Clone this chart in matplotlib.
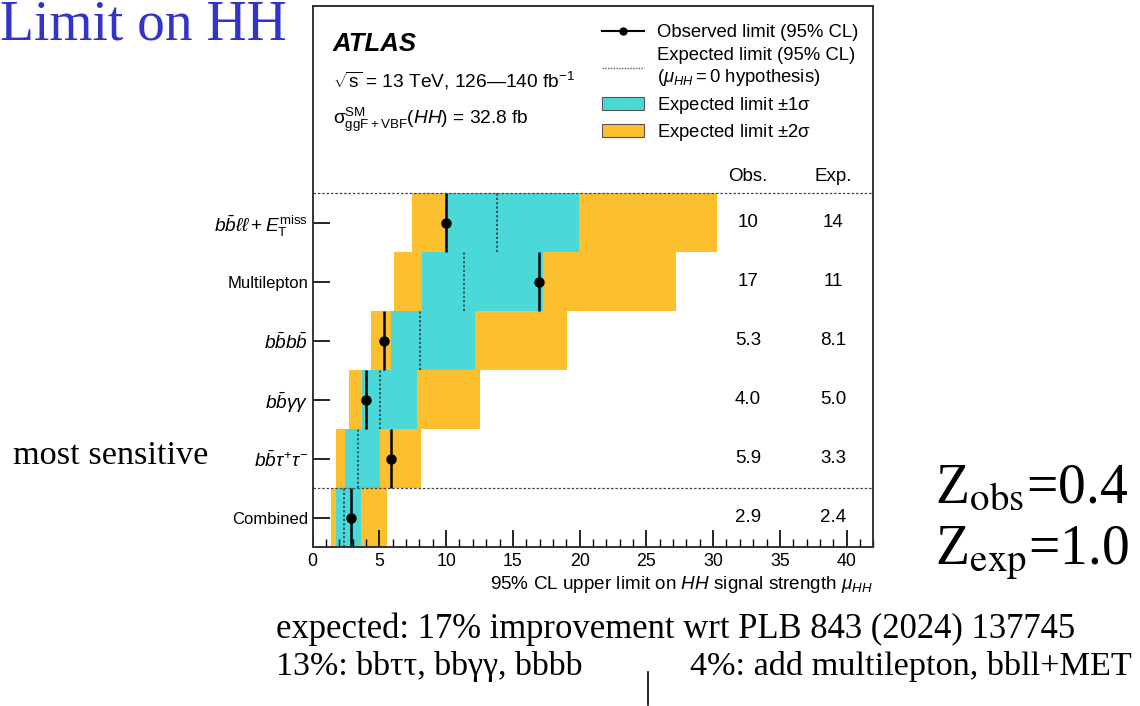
import matplotlib
matplotlib.use("Agg")
import matplotlib.pyplot as plt
from matplotlib.lines import Line2D
from matplotlib.patches import Patch
from matplotlib.ticker import MultipleLocator

plt.rcParams['font.family'] = ['Liberation Sans', 'DejaVu Sans']
plt.rcParams['mathtext.fontset'] = 'custom'
plt.rcParams['mathtext.rm'] = 'Liberation Sans'
plt.rcParams['mathtext.it'] = 'Liberation Sans:italic'
plt.rcParams['mathtext.bf'] = 'Liberation Sans:bold'

# channels from bottom (Combined) to top
channels = ["Combined", r"$b\bar{b}\tau^{+}\tau^{-}$", r"$b\bar{b}\gamma\gamma$",
            r"$b\bar{b}b\bar{b}$", "Multilepton",
            r"$b\bar{b}\ell\ell + E_{\mathrm{T}}^{\mathrm{miss}}$"]
obs_limit = [2.87, 5.84, 3.99, 5.34, 16.93, 9.98]
exp_limit = [2.37, 3.37, 5.04, 8.04, 11.32, 13.79]
minus_1s = [1.73, 2.42, 3.72, 5.86, 8.18, 10.05]
plus_1s = [3.62, 5.04, 7.83, 12.15, 17.25, 19.95]
minus_2s = [1.38, 1.75, 2.74, 4.37, 6.09, 7.43]
plus_2s = [5.59, 8.09, 12.52, 19.05, 27.23, 30.27]
obs_text = ["2.9", "5.9", "4.0", "5.3", "17", "10"]
exp_text = ["2.4", "3.3", "5.0", "8.1", "11", "14"]

cyan = "#4bd8d8"
yellow = "#fcc02f"

fig = plt.figure(figsize=(11.4, 7.06), dpi=100)
ax = fig.add_axes([0.2742, 0.2252, 0.4919, 0.7663])

ypos = list(range(len(channels)))
ax.barh(ypos, [h - l for l, h in zip(minus_2s, plus_2s)], left=minus_2s,
        height=1.0, color=yellow, lw=0)
ax.barh(ypos, [h - l for l, h in zip(minus_1s, plus_1s)], left=minus_1s,
        height=1.0, color=cyan, lw=0)
ax.vlines(exp_limit, [y - 0.5 for y in ypos], [y + 0.5 for y in ypos],
          colors="#2a4a50", linestyles=(0, (1.2, 1.2)), lw=1.3)
ax.vlines(obs_limit, [y - 0.5 for y in ypos], [y + 0.5 for y in ypos],
          colors="black", lw=1.8)
ax.plot(obs_limit, ypos, "o", color="black", ms=6.5, zorder=5)

for yl in (0.5, 5.5):
    ax.axhline(yl, color="#444444", lw=0.9, ls=(0, (2, 1.5)))

for y, o, e in zip(ypos, obs_text, exp_text):
    ax.text(32.6, y, o, ha="center", va="center", fontsize=13.5)
    ax.text(39.0, y, e, ha="center", va="center", fontsize=13.5)
ax.text(32.6, 5.78, "Obs.", ha="center", va="center", fontsize=13.5)
ax.text(39.0, 5.78, "Exp.", ha="center", va="center", fontsize=13.5)

ax.text(1.5, 8.03, "ATLAS", fontsize=18.5, fontweight="bold", style="italic",
        ha="left", va="center")
ax.text(1.5, 7.41, r"$\sqrt{\mathrm{s}}$ = 13 TeV, 126—140 fb$^{-1}$",
        fontsize=13.8, ha="left", va="center")
ax.text(1.5, 6.75, r"$\mathrm{\sigma}^{\mathrm{SM}}_{\mathrm{ggF+VBF}}(HH)$ = 32.8 fb",
        fontsize=13.8, ha="left", va="center")

ax.set_xlim(0, 42)
ax.set_ylim(-0.5, 8.68)
ax.set_yticks(ypos, channels, fontsize=12)
for lab in ax.get_yticklabels():
    if lab.get_text().startswith("$"):
        lab.set_fontsize(13.8)
ax.xaxis.set_major_locator(MultipleLocator(5))
ax.xaxis.set_minor_locator(MultipleLocator(1))
ax.tick_params(axis="x", which="major", direction="in", length=12, width=1.2,
               labelsize=12.8, pad=4)
ax.tick_params(axis="x", which="minor", direction="in", length=6, width=1.0)
ax.tick_params(axis="y", which="major", direction="in", length=12, width=1.2, pad=3)
for sp in ax.spines.values():
    sp.set_linewidth(1.4)
    sp.set_color("#333333")
ax.set_xlabel(r"95% CL upper limit on $HH$ signal strength $\mu_{HH}$",
              loc="right", fontsize=13.6, labelpad=3)

handles = [
    Line2D([], [], color="black", marker="o", ms=5, lw=1.5),
    Line2D([], [], color="#555555", ls=(0, (1, 1)), lw=1.0),
    Patch(facecolor=cyan, edgecolor="#555555", lw=0.8),
    Patch(facecolor=yellow, edgecolor="#555555", lw=0.8),
]
labels = ["Observed limit (95% CL)",
          "Expected limit (95% CL)\n" + r"($\mu_{HH} = 0$ hypothesis)",
          r"Expected limit $\pm1\mathrm{\sigma}$",
          r"Expected limit $\pm2\mathrm{\sigma}$"]
ax.legend(handles, labels, loc="upper left", bbox_to_anchor=(0.516, 0.966),
          frameon=False, fontsize=13.3, handlelength=2.3, handletextpad=0.7,
          labelspacing=0.33, borderaxespad=0, borderpad=0)

# slide annotations
fig.text(0.0, 1 - 40 / 706, "Limit on HH", family="Liberation Serif",
         fontsize=40, color="#3333cc", va="baseline")
fig.text(13 / 1140, 1 - 464 / 706, "most sensitive", family="Liberation Serif",
         fontsize=24.7, va="baseline")
fig.text(935 / 1140, 1 - 502 / 706, r"Z$_{\mathrm{obs}}$=0.4",
         family="Liberation Serif", math_fontfamily="stix", fontsize=40,
         va="baseline")
fig.text(935 / 1140, 1 - 565 / 706, r"Z$_{\mathrm{exp}}$=1.0",
         family="Liberation Serif", math_fontfamily="stix", fontsize=40,
         va="baseline")
fig.text(276 / 1140, 1 - 638 / 706,
         "expected: 17% improvement wrt PLB 843 (2024) 137745",
         family="Liberation Serif", fontsize=24.9, va="baseline")
fig.text(276 / 1140, 1 - 675 / 706, "13%: bbττ, bbγγ, bbbb",
         family="Liberation Serif", fontsize=24.5, va="baseline")
fig.text(690 / 1140, 1 - 675 / 706, "4%: add multilepton, bbll+MET",
         family="Liberation Serif", fontsize=24.7, va="baseline")
fig.add_artist(Line2D([648 / 1140, 648 / 1140], [1 - 672 / 706, 1 - 705 / 706],
                      color="black", lw=1.2, transform=fig.transFigure))

fig.savefig("out.png", dpi=100)
